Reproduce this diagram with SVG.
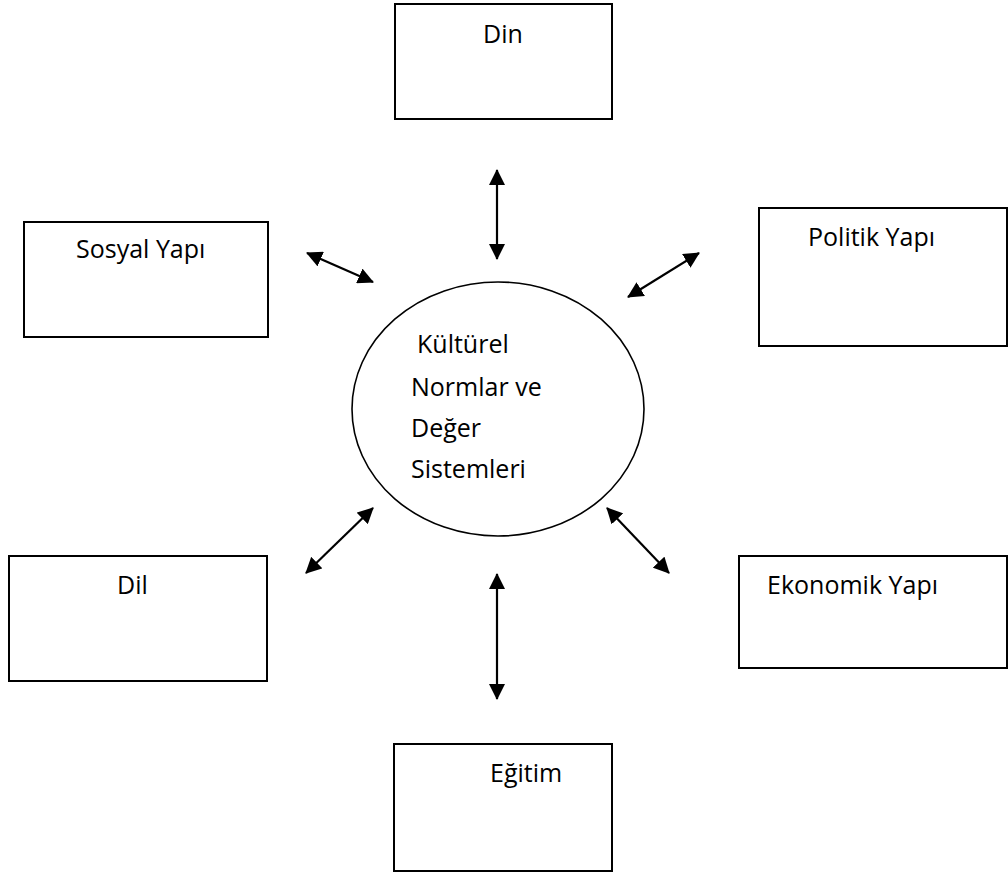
<svg xmlns="http://www.w3.org/2000/svg" width="1008" height="875" viewBox="0 0 1008 875">
  <style>
    .box { fill: #ffffff; stroke: #000000; stroke-width: 2; }
    .hub { fill: #ffffff; stroke: #000000; stroke-width: 1.6; }
    .label { font-family: "Open Sans", "Liberation Sans", sans-serif; font-size: 25px; fill: #000000; }
    .hub-label { font-family: "Open Sans", "Liberation Sans", sans-serif; font-size: 25px; fill: #000000; }
    .link { stroke: #000000; stroke-width: 2.2; fill: none; marker-start: url(#head); marker-end: url(#head); }
  </style>
  <defs>
    <marker id="head" markerUnits="userSpaceOnUse" markerWidth="16" markerHeight="16" refX="15" refY="8" orient="auto-start-reverse">
      <path d="M0,0 L16,8 L0,16 z" fill="#000000"/>
    </marker>
  </defs>
  <rect width="1008" height="875" fill="#ffffff"/>

  <g id="din">
    <rect class="box" x="395" y="4" width="217" height="115"/>
    <text class="label" x="483" y="43">Din</text>
  </g>
  <g id="sosyal-yapi">
    <rect class="box" x="24" y="222" width="244" height="115"/>
    <text class="label" x="76" y="258">Sosyal Yapı</text>
  </g>
  <g id="politik-yapi">
    <rect class="box" x="759" y="208" width="248" height="138"/>
    <text class="label" x="808" y="246">Politik Yapı</text>
  </g>
  <g id="dil">
    <rect class="box" x="9" y="556" width="258" height="125"/>
    <text class="label" x="117" y="594">Dil</text>
  </g>
  <g id="ekonomik-yapi">
    <rect class="box" x="739" y="556" width="268" height="112"/>
    <text class="label" x="767" y="594">Ekonomik Yapı</text>
  </g>
  <g id="egitim">
    <rect class="box" x="394" y="744" width="218" height="127"/>
    <text class="label" x="490" y="782">Eğitim</text>
  </g>

  <g id="kulturel-normlar">
    <ellipse class="hub" cx="498" cy="409" rx="146" ry="127"/>
    <text class="hub-label" x="417" y="353">Kültürel</text>
    <text class="hub-label" x="411" y="396">Normlar ve</text>
    <text class="hub-label" x="411" y="437">Değer</text>
    <text class="hub-label" x="411" y="478">Sistemleri</text>
  </g>

  <g id="connectors">
    <line class="link" x1="497" y1="170" x2="497" y2="259"/>
    <line class="link" x1="307" y1="253" x2="373" y2="282"/>
    <line class="link" x1="699" y1="253" x2="628" y2="297"/>
    <line class="link" x1="373" y1="508" x2="306" y2="573"/>
    <line class="link" x1="607" y1="508" x2="669" y2="573"/>
    <line class="link" x1="497" y1="574" x2="497" y2="699"/>
  </g>
</svg>
